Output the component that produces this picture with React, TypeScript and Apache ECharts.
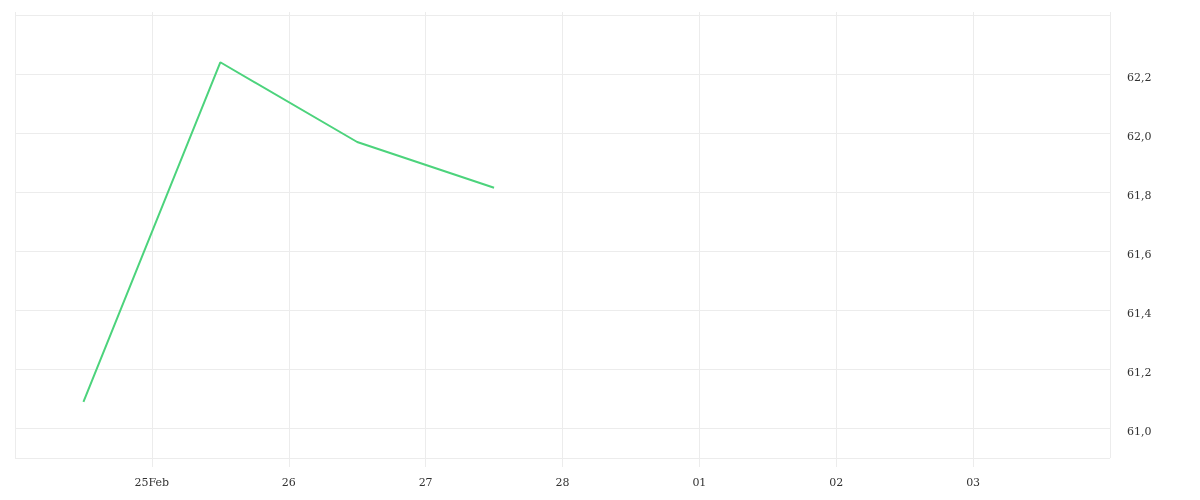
import React, { useEffect, useRef } from "react";
import * as echarts from "echarts";

const DAY = 86400000;
const dates = ["2025-02-24T12:00:00Z", "2025-02-25T12:00:00Z", "2025-02-26T12:00:00Z", "2025-02-27T12:00:00Z"];
const values = [61.09, 62.24, 61.97, 61.815];
const xStart = "2025-02-24T00:00:00Z";
const xEnd = "2025-03-04T00:00:00Z";
const yMin = 60.9;
const yMax = 62.4;
const yTickLabels = [61.0, 61.2, 61.4, 61.6, 61.8, 62.0, 62.2];
const yGridValues = [60.9, 61.0, 61.2, 61.4, 61.6, 61.8, 62.0, 62.2, 62.4];
const monthNames = ["Jan", "Feb", "Mar", "Apr", "May", "Jun", "Jul", "Aug", "Sep", "Oct", "Nov", "Dec"];

const gridColor = "#ececec";
const textColor = "#333";
const font = "DejaVu Serif";

export default function App() {
  const ref = useRef<HTMLDivElement>(null);
  useEffect(() => {
    const chart = echarts.init(ref.current!, undefined, { renderer: "svg" });
    const minX = Date.parse(xStart);
    const maxX = Date.parse(xEnd);
    const firstLabel = minX + DAY;
    chart.setOption({
      animation: false,
      grid: { left: 15, right: 90, top: 15, bottom: 42 },
      xAxis: [
        {
          type: "value",
          min: minX,
          max: maxX,
          interval: DAY,
          axisLine: { show: false },
          axisTick: { show: true, length: 9, lineStyle: { color: gridColor } },
          splitLine: { show: true, lineStyle: { color: gridColor } },
          axisLabel: {
            showMinLabel: false,
            showMaxLabel: false,
            margin: 19,
            color: textColor,
            fontFamily: font,
            fontSize: 11,
            formatter: (v: number) => {
              const d = new Date(v);
              const dd = String(d.getUTCDate()).padStart(2, "0");
              if (Math.abs(v - firstLabel) < 1000) return dd + monthNames[d.getUTCMonth()];
              return dd;
            },
          },
        },
        {
          type: "value",
          position: "top",
          min: minX,
          max: maxX,
          interval: DAY,
          axisLine: { show: false },
          axisTick: { show: true, length: 3, lineStyle: { color: gridColor } },
          splitLine: { show: false },
          axisLabel: { show: false },
        },
      ],
      yAxis: {
        type: "value",
        position: "right",
        min: yMin,
        max: yMax,
        axisLine: { show: false },
        axisTick: { show: false, customValues: yGridValues },
        splitLine: { show: true, lineStyle: { color: gridColor } },
        axisLabel: {
          customValues: yTickLabels,
          margin: 17,
          color: textColor,
          fontFamily: font,
          fontSize: 11,
          formatter: (v: number) => "{v|" + v.toFixed(1).replace(".", ",") + "}",
          rich: {
            v: {
              color: textColor,
              fontFamily: font,
              fontSize: 11,
              padding: [6, 0, 0, 0],
            },
          },
        },
      },
      series: [
        {
          type: "line",
          xAxisIndex: 0,
          data: dates.map((d, i) => [Date.parse(d), values[i]]),
          showSymbol: false,
          lineStyle: { color: "#4cd37c", width: 2 },
          itemStyle: { color: "#4cd37c" },
        },
      ],
    });
    return () => chart.dispose();
  }, []);
  return <div ref={ref} style={{ position: "fixed", left: 0, top: 0, width: 1200, height: 500 }} />;
}
